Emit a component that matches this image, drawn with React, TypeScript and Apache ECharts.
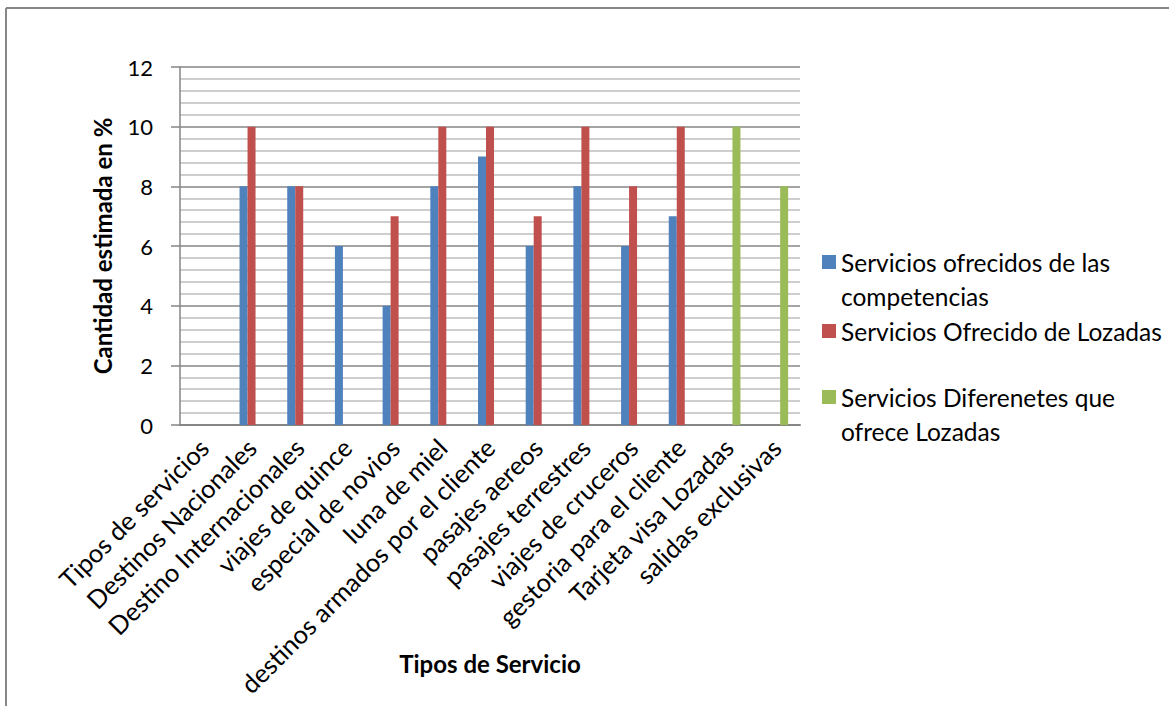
import React, { useEffect, useRef } from "react";
import * as echarts from "echarts";

const categories = [
  "Tipos de servicios",
  "Destinos Nacionales",
  "Destino Internacionales",
  "viajes de quince",
  "especial de novios",
  "luna de miel",
  "destinos armados por el cliente",
  "pasajes aereos",
  "pasajes terrestres",
  "viajes de cruceros",
  "gestoria para el cliente",
  "Tarjeta visa Lozadas",
  "salidas exclusivas",
];

const seriesNames = [
  "Servicios ofrecidos de las competencias",
  "Servicios Ofrecido de Lozadas",
  "Servicios Diferenetes que ofrece Lozadas",
];

const competencias = [null, 8, 8, 6, 4, 8, 9, 6, 8, 6, 7, null, null];
const lozadas = [null, 10, 8, null, 7, 10, 10, 7, 10, 8, 10, null, null];
const diferentes = [null, null, null, null, null, null, null, null, null, null, null, 10, 8];

const yTicks = [0, 2, 4, 6, 8, 10, 12];

const colors = ["#4F81BD", "#C0504D", "#9BBB59"];
const FONT = "Lato, 'Open Sans', sans-serif";

export default function App() {
  const ref = useRef<HTMLDivElement>(null);

  useEffect(() => {
    if (!ref.current) return;
    const chart = echarts.init(ref.current, undefined, { renderer: "svg" });
    const legendText = {
      fontSize: 24.5,
      fontFamily: FONT,
      color: "#000",
      lineHeight: 34,
    };
    const legendCommon = {
      left: 822,
      orient: "vertical",
      icon: "rect",
      itemWidth: 14,
      itemHeight: 14,
      itemGap: 0,
      padding: 0,
      textStyle: legendText,
    };
    const option = {
      animation: false,
      textStyle: { fontFamily: FONT },
      graphic: [
        {
          type: "line",
          shape: { x1: 6, y1: 8, x2: 1169, y2: 8 },
          style: { stroke: "#878787", lineWidth: 2 },
          silent: true,
        },
        {
          type: "line",
          shape: { x1: 6, y1: 8, x2: 6, y2: 706 },
          style: { stroke: "#878787", lineWidth: 2 },
          silent: true,
        },
      ],
      legend: [
        {
          ...legendCommon,
          data: [seriesNames[0]],
          top: 211,
          formatter: () => " \nServicios ofrecidos de las\ncompetencias",
        },
        {
          ...legendCommon,
          data: [seriesNames[1]],
          top: 314,
        },
        {
          ...legendCommon,
          data: [seriesNames[2]],
          top: 346,
          formatter: () => " \nServicios Diferenetes que\nofrece Lozadas",
        },
      ],
      grid: {
        left: 180,
        right: 369,
        top: 67,
        bottom: 281,
        containLabel: false,
        outerBoundsMode: "none",
      },
      xAxis: {
        type: "category",
        data: categories,
        name: "Tipos de Servicio",
        nameLocation: "middle",
        nameGap: 226,
        nameMoveOverlap: false,
        nameTextStyle: { fontSize: 24, fontWeight: "bold", color: "#000", fontFamily: FONT },
        axisLine: { show: true, lineStyle: { color: "#868686", width: 2 } },
        axisTick: { show: false },
        axisLabel: {
          rotate: 45,
          interval: 0,
          fontSize: 25.5,
          color: "#000",
          fontFamily: FONT,
          margin: 18,
        },
        splitLine: { show: false },
      },
      yAxis: {
        type: "value",
        min: yTicks[0],
        max: yTicks[yTicks.length - 1],
        interval: 2,
        name: "Cantidad estimada en %",
        nameLocation: "middle",
        nameGap: 66,
        nameMoveOverlap: false,
        nameTextStyle: { fontSize: 24, fontWeight: "bold", color: "#000", fontFamily: FONT },
        axisLine: { show: true, lineStyle: { color: "#868686", width: 1.5 } },
        axisTick: { show: true, length: 9, inside: false, lineStyle: { color: "#868686", width: 1.5 } },
        axisLabel: { fontSize: 22, color: "#000", fontFamily: FONT, margin: 27 },
        splitLine: { show: true, lineStyle: { color: "#868686", width: 1.5 } },
        minorTick: { show: false, splitNumber: 5 },
        minorSplitLine: { show: true, lineStyle: { color: "#BEBEBE", width: 1.5 } },
      },
      series: [
        {
          name: seriesNames[0],
          type: "bar",
          data: competencias,
          barWidth: 8,
          barGap: "0%",
          itemStyle: { color: colors[0] },
        },
        {
          name: seriesNames[1],
          type: "bar",
          data: lozadas,
          barWidth: 8,
          barGap: "0%",
          itemStyle: { color: colors[1] },
        },
        {
          name: seriesNames[2],
          type: "bar",
          data: diferentes,
          barWidth: 8,
          barGap: "0%",
          itemStyle: { color: colors[2] },
        },
      ],
    };
    chart.setOption(option as any);
    return () => chart.dispose();
  }, []);

  return (
    <div
      ref={ref}
      style={{ position: "fixed", left: 0, top: 0, width: 1169, height: 706, background: "#fff" }}
    />
  );
}
